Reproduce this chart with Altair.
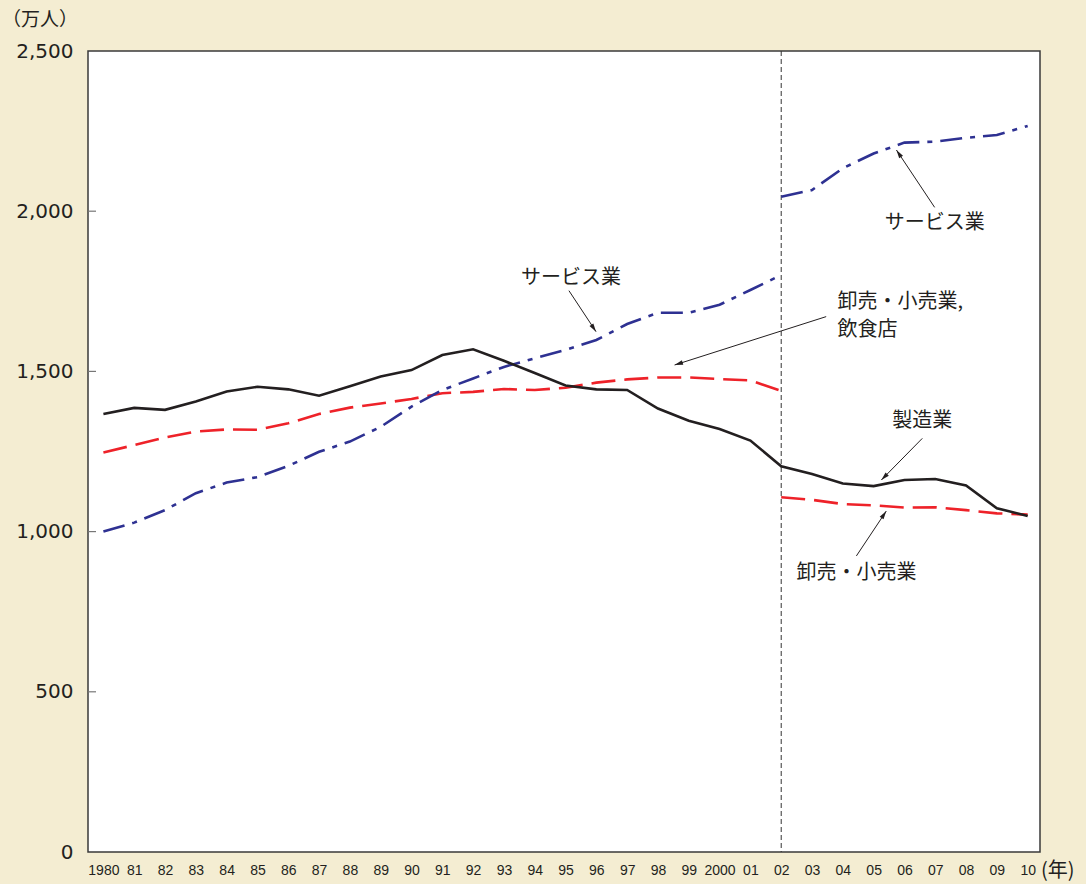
import math
import altair as alt
import pandas as pd

# ---------------- data ----------------
years = [1980, 1981, 1982, 1983, 1984, 1985, 1986, 1987, 1988, 1989, 1990,
         1991, 1992, 1993, 1994, 1995, 1996, 1997, 1998, 1999, 2000,
         2001, 2002, 2003, 2004, 2005, 2006, 2007, 2008, 2009, 2010]
years_old = years[:23]   # 1980-2002 (old classification)
years_new = years[22:]   # 2002-2010 (new classification)

manufacturing = [1367, 1386, 1380, 1406, 1437, 1452, 1444, 1424, 1454, 1484, 1504,
                 1551, 1569, 1533, 1495, 1456, 1444, 1442, 1384, 1346, 1320,
                 1284, 1204, 1180, 1150, 1142, 1161, 1164, 1144, 1073, 1049]
wholesale_food = [1247, 1270, 1294, 1312, 1319, 1318, 1338, 1367, 1387, 1400, 1414,
                  1432, 1436, 1445, 1442, 1449, 1465, 1475, 1481, 1481, 1476,
                  1472, 1439]
wholesale = [1107, 1099, 1086, 1082, 1075, 1076, 1067, 1057, 1053]
services_old = [1000, 1028, 1067, 1120, 1153, 1170, 1205, 1249, 1281, 1327, 1390,
                1442, 1478, 1514, 1541, 1567, 1598, 1648, 1683, 1683, 1708,
                1754, 1801]
services_new = [2045, 2066, 2134, 2180, 2214, 2217, 2229, 2238, 2266]

y_ticks = [0, 500, 1000, 1500, 2000, 2500]
break_year = [2002]

# annotations: label, text position, arrow tail, arrow head (year, value)
ann_labels = ["サービス業", "サービス業", "製造業", "卸売・小売業"]
ann_text_x = [1995.18, 2006.98, 2006.58, 2004.44]
ann_text_y = [1790, 1962, 1346, 870]
arrow_x1 = [1995.11, 2006.98, 2006.58, 2004.44, 2003.46]
arrow_y1 = [1752, 2012, 1291, 924, 1671]
arrow_x2 = [1995.99, 2005.74, 2005.25, 2005.41, 1998.54]
arrow_y2 = [1624, 2191, 1161, 1064, 1520]
multi_label = ["卸売・小売業,", "飲食店"]
multi_x = [2003.83, 2003.83]
multi_y = [1717, 1629]

# ---------------- layout ----------------
W, H = 952, 801
XDOM = [1979.5, 2010.4]
YDOM = [0, 2500]
JP = "Noto Sans CJK JP"
NUM = "Liberation Sans"

xs = alt.Scale(domain=XDOM, nice=False, zero=False)
ys = alt.Scale(domain=YDOM, nice=False, zero=False)

def px(x, y):
    return ((x - XDOM[0]) / (XDOM[1] - XDOM[0]) * W,
            H - (y - YDOM[0]) / (YDOM[1] - YDOM[0]) * H)

angles = []
for a, b, c, d in zip(arrow_x1, arrow_y1, arrow_x2, arrow_y2):
    (p1x, p1y), (p2x, p2y) = px(a, b), px(c, d)
    ang = math.degrees(math.atan2(p2x - p1x, -(p2y - p1y))) % 360
    angles.append(ang)

df_m = pd.DataFrame({"year": years, "v": manufacturing})
df_wf = pd.DataFrame({"year": years_old, "v": wholesale_food})
df_w = pd.DataFrame({"year": years_new, "v": wholesale})
df_so = pd.DataFrame({"year": years_old, "v": services_old})
df_sn = pd.DataFrame({"year": years_new, "v": services_new})
df_tick = pd.DataFrame({"v": y_ticks[1:-1]})
df_ann = pd.DataFrame({"label": ann_labels, "x": ann_text_x, "y": ann_text_y})
df_multi = pd.DataFrame({"label": multi_label, "x": multi_x, "y": multi_y})
df_arr = pd.DataFrame({"x1": arrow_x1, "y1": arrow_y1, "x2": arrow_x2,
                       "y2": arrow_y2, "ang": angles})

x_axis = alt.Axis(values=years, title=None, ticks=False, domain=False, grid=False,
                  labelExpr="(datum.value == 1980 || datum.value == 2000) ? toString(datum.value) : substring(toString(datum.value), 2)",
                  labelFont=NUM, labelFontSize=14, labelColor="#231f20",
                  labelPadding=11, labelOverlap=False, labelFlush=False,
                  labelBound=False)
y_axis = alt.Axis(values=y_ticks, title=None, ticks=False, domain=False, grid=False,
                  labelExpr="format(datum.value, ',')", labelFont="DejaVu Sans",
                  labelFontSize=20, labelColor="#231f20", labelPadding=15,
                  labelOverlap=False, labelFlush=False)

def X(field):
    return alt.X(field, scale=xs, axis=x_axis)

def Y(field):
    return alt.Y(field, scale=ys, axis=y_axis)

def line(df, color, dash, width=2.6):
    kw = dict(color=color, strokeWidth=width, clip=True)
    if dash:
        kw["strokeDash"] = dash
    return alt.Chart(df).mark_line(**kw).encode(x=X("year:Q"), y=Y("v:Q"))

RED = "#ee2229"
BLUE = "#2e3192"
BLACK = "#231f20"

layers = [
    line(df_wf, RED, [24, 9]),
    line(df_w, RED, [24, 9]),
    line(df_so, BLUE, [22, 8, 5, 8]),
    line(df_sn, BLUE, [22, 8, 5, 8]),
    line(df_m, BLACK, None),
]

vrule = alt.Chart(pd.DataFrame({"year": break_year})).mark_rule(
    color="#333333", strokeWidth=1, strokeDash=[5, 3]
).encode(x=X("year:Q"))

ticks = alt.Chart(df_tick).mark_rule(color="#777777", strokeWidth=1.2).encode(
    y=Y("v:Q"), x=alt.value(0), x2=alt.value(8)
)

arrow_lines = alt.Chart(df_arr).mark_rule(color="#231f20", strokeWidth=1).encode(
    x=X("x1:Q"), y=Y("y1:Q"), x2="x2:Q", y2="y2:Q"
)
arrow_heads = alt.Chart(df_arr).mark_point(
    shape="M0,0L0.55,2L-0.55,2Z", filled=True, color="#231f20", size=70, opacity=1
).encode(
    x=X("x2:Q"), y=Y("y2:Q"),
    angle=alt.Angle("ang:Q", scale=None)
)

ann = alt.Chart(df_ann).mark_text(
    font=JP, fontSize=20, color="#231f20", align="center", baseline="middle"
).encode(x=X("x:Q"), y=Y("y:Q"), text="label:N")

multi = alt.Chart(df_multi).mark_text(
    font=JP, fontSize=20, color="#231f20", align="left", baseline="middle"
).encode(x=X("x:Q"), y=Y("y:Q"), text="label:N")

unit_y = alt.Chart(pd.DataFrame({"t": ["（万人）"]})).mark_text(
    font=JP, fontSize=19, color="#231f20", align="left", baseline="middle"
).encode(x=alt.value(-86), y=alt.value(-31), text="t:N")

unit_x = alt.Chart(pd.DataFrame({"t": ["(年)"]})).mark_text(
    font=JP, fontSize=20, color="#231f20", align="left", baseline="middle"
).encode(x=alt.value(W + 1), y=alt.value(H + 19), text="t:N")

chart = alt.layer(
    vrule, ticks, *layers, arrow_lines, arrow_heads, ann, multi, unit_y, unit_x
).properties(
    width=W, height=H,
    autosize=alt.AutoSizeParams(type="none"),
    padding={"left": 88, "top": 51, "right": 46, "bottom": 32},
    background="#f4edd2",
).configure_view(
    fill="white", stroke="#3a3a3a", strokeWidth=1.5
)

chart.save("out.html", embed_options={"renderer": "svg", "actions": False})
